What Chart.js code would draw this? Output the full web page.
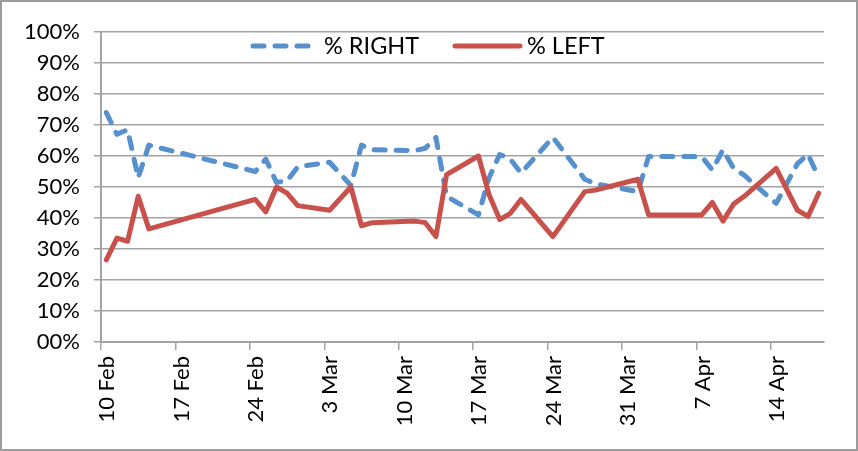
<!DOCTYPE html>
<html>
<head>
<meta charset="utf-8">
<script src="https://cdn.jsdelivr.net/npm/chart.js@4.4.1/dist/chart.umd.min.js"></script>
<style>
  html, body { margin: 0; padding: 0; background: #fff; }
  canvas { display: block; }
</style>
</head>
<body>
<canvas id="sideChart" width="858" height="451"></canvas>
<script>
// readings taken from the chart (percent)
const dates = [
  "2013-02-10", "2013-02-11", "2013-02-12", "2013-02-13", "2013-02-14",
  "2013-02-24", "2013-02-25", "2013-02-26", "2013-02-27", "2013-02-28",
  "2013-03-03", "2013-03-05", "2013-03-06", "2013-03-07", "2013-03-11",
  "2013-03-12", "2013-03-13", "2013-03-14", "2013-03-17", "2013-03-18",
  "2013-03-19", "2013-03-20", "2013-03-21", "2013-03-24", "2013-03-27",
  "2013-03-28", "2013-04-01", "2013-04-02", "2013-04-07", "2013-04-08",
  "2013-04-09", "2013-04-10", "2013-04-11", "2013-04-14", "2013-04-16",
  "2013-04-17", "2013-04-18"
];
const rightPct = [
  74, 67, 68.5, 53, 63.5, 55, 59, 51.5, 52, 56.5,
  58, 50.5, 63.5, 62, 61.7, 62.5, 66, 47, 41, 53,
  60.5, 59, 54.5, 66, 52.5, 51, 48.5, 59.8, 59.8, 55.5,
  62, 56, 53.8, 44.7, 57.5, 60.5, 53
];
const leftPct = [
  26.5, 33.5, 32.5, 47, 36.5, 46, 42, 50, 48, 44,
  42.5, 50, 37.5, 38.5, 39, 38.5, 34, 54, 60, 47.5,
  39.5, 41.5, 46, 34, 48.5, 49, 52.5, 41, 41, 45,
  39, 44.5, 47, 56, 42.5, 40.5, 48
];
const seriesNames = ["% RIGHT", "% LEFT"];
const tickDates = [
  "2013-02-10", "2013-02-17", "2013-02-24", "2013-03-03", "2013-03-10",
  "2013-03-17", "2013-03-24", "2013-03-31", "2013-04-07", "2013-04-14"
];
const tickLabels = [
  "10 Feb", "17 Feb", "24 Feb", "3 Mar", "10 Mar",
  "17 Mar", "24 Mar", "31 Mar", "7 Apr", "14 Apr"
];
const yTickLabels = ["00%", "10%", "20%", "30%", "40%", "50%", "60%", "70%", "80%", "90%", "100%"];
const lastDate = "2013-04-19";

const DAY = 86400000;
const start = Date.parse(dates[0]);
const dayOf = d => (Date.parse(d) - start) / DAY;

// excel date axis puts each point in the middle of its day slot
const rightPts = dates.map((d, i) => ({ x: dayOf(d) + 0.5, y: rightPct[i] }));
const leftPts = dates.map((d, i) => ({ x: dayOf(d) + 0.5, y: leftPct[i] }));
const tickDays = tickDates.map(dayOf);

const FONT = "Lato";
const GRID = "#a3a3a3";

const frame = {
  id: "frame",
  beforeDraw(chart) {
    const c = chart.ctx;
    c.save();
    c.fillStyle = "#fff";
    c.fillRect(0, 0, chart.width, chart.height);
    c.restore();
  },
  afterDraw(chart) {
    const c = chart.ctx;
    c.save();
    c.strokeStyle = "#9c9c9c";
    c.lineWidth = 2;
    c.strokeRect(1, 1, chart.width - 2, chart.height - 2);
    c.restore();
  }
};

// legend sits inside the plot, like the excel one
const innerLegend = {
  id: "innerLegend",
  afterDraw(chart) {
    const c = chart.ctx;
    const y = 46;
    const slots = [[253, 317, 324], [455, 520, 527]];
    c.save();
    chart.data.datasets.forEach((ds, i) => {
      const [x0, x1, tx] = slots[i];
      c.beginPath();
      c.strokeStyle = ds.borderColor;
      c.lineWidth = ds.borderWidth;
      c.lineCap = ds.borderCapStyle || "butt";
      c.setLineDash(ds.borderDash || []);
      c.moveTo(x0, y);
      c.lineTo(x1, y);
      c.stroke();
      c.setLineDash([]);
      c.fillStyle = "#000";
      c.font = "23.5px " + FONT;
      c.textBaseline = "middle";
      c.textAlign = "left";
      c.fillText(ds.label, tx, y);
    });
    c.restore();
  }
};

new Chart(document.getElementById("sideChart"), {
  type: "line",
  data: {
    datasets: [
      {
        label: seriesNames[0],
        data: rightPts,
        borderColor: "#5690cd",
        borderWidth: 5,
        borderDash: [11, 11],
        borderCapStyle: "round",
        borderJoinStyle: "round",
        pointRadius: 0,
        tension: 0,
        order: 1
      },
      {
        label: seriesNames[1],
        data: leftPts,
        borderColor: "#c9514b",
        borderWidth: 5,
        borderCapStyle: "round",
        borderJoinStyle: "round",
        pointRadius: 0,
        tension: 0,
        order: 0
      }
    ]
  },
  options: {
    responsive: false,
    animation: false,
    devicePixelRatio: 1,
    layout: { padding: { top: 32, right: 34, left: 0, bottom: 0 } },
    plugins: {
      legend: { display: false },
      tooltip: { enabled: false }
    },
    scales: {
      x: {
        type: "linear",
        min: 0,
        max: dayOf(lastDate),
        afterBuildTicks(scale) {
          scale.ticks = tickDays.map(v => ({ value: v }));
        },
        afterFit(scale) { scale.height = 109; },
        ticks: {
          minRotation: 90,
          maxRotation: 90,
          autoSkip: false,
          padding: 6,
          labelOffset: 6,
          color: "#000",
          font: { family: FONT, size: 22 },
          callback: (v) => tickLabels[tickDays.indexOf(v)]
        },
        grid: {
          drawOnChartArea: false,
          drawTicks: true,
          tickLength: 8,
          color: GRID,
          lineWidth: 1.5
        },
        border: { color: GRID, width: 2 }
      },
      y: {
        min: 0,
        max: 100,
        afterFit(scale) { scale.width = 101; },
        ticks: {
          stepSize: 10,
          padding: 14,
          color: "#000",
          font: { family: FONT, size: 22 },
          callback: (v) => yTickLabels[Math.round(v / 10)]
        },
        grid: {
          color: GRID,
          lineWidth: 1.5,
          tickLength: 7
        },
        border: { color: GRID, width: 2 }
      }
    }
  },
  plugins: [frame, innerLegend]
});
</script>
</body>
</html>
